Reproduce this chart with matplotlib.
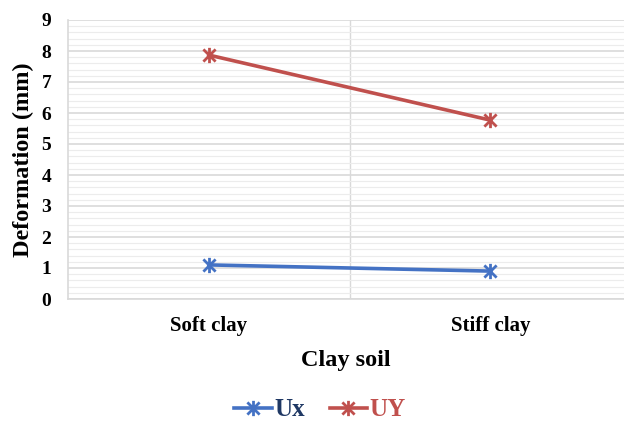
import numpy as np
import matplotlib.pyplot as plt
from matplotlib.path import Path
from matplotlib.ticker import MultipleLocator

# Data
categories = ["Soft clay", "Stiff clay"]
ux = [1.1, 0.9]
uy = [7.87, 5.77]

plt.rcParams['font.family'] = ['Liberation Serif', 'DejaVu Serif']
plt.rcParams['font.weight'] = 'bold'

# Excel-style star marker: an X with a vertical bar through it
star = Path([(-1, -1), (1, 1), (-1, 1), (1, -1), (0, -1.25), (0, 1.25)],
            [Path.MOVETO, Path.LINETO, Path.MOVETO, Path.LINETO,
             Path.MOVETO, Path.LINETO])

fig = plt.figure(figsize=(6.24, 4.21), dpi=100)
ax = fig.add_axes([68 / 624, 1 - 299 / 421, (624 - 68) / 624, (299 - 20) / 421])

x = np.arange(len(categories))
blue = "#4472C4"
red = "#C0504D"
ax.plot(x, ux, color=blue, lw=2.6, marker=star, ms=11, mew=2, label="Ux")
ax.plot(x, uy, color=red, lw=2.6, marker=star, ms=11, mew=2, label="UY")

ax.set_ylim(0, 9)
ax.set_xlim(-0.5, 1.475)
ax.yaxis.set_major_locator(MultipleLocator(1))
ax.yaxis.set_minor_locator(MultipleLocator(0.2))
ax.grid(which='major', axis='y', color='#d9d9d9', lw=1.2)
ax.grid(which='minor', axis='y', color='#ececec', lw=0.8)
ax.set_axisbelow(True)
ax.axvline(0.5, color='#d9d9d9', lw=1, zorder=0)

ax.set_xticks(x)
ax.set_xticklabels(categories, fontsize=15, fontweight='bold')
ax.tick_params(axis='both', which='both', length=0)
ax.tick_params(axis='y', labelsize=14, pad=12)
ax.tick_params(axis='x', pad=12)
for lab in ax.get_yticklabels():
    lab.set_fontweight('bold')

for side in ['top', 'right']:
    ax.spines[side].set_visible(False)
for side in ['left', 'bottom']:
    ax.spines[side].set_color('#d9d9d9')
    ax.spines[side].set_linewidth(1.2)

ax.set_ylabel("Deformation (mm)", fontsize=17.5, fontweight='bold', labelpad=5)
ax.set_xlabel("Clay soil", fontsize=17.5, fontweight='bold', labelpad=10)

leg = fig.legend(loc='center', bbox_to_anchor=(320 / 624, 1 - 410 / 421),
                 ncol=2, frameon=False, fontsize=18, handlelength=1.5,
                 columnspacing=1.0, handletextpad=0.1)
leg.get_texts()[0].set_color("#1F3864")
leg.get_texts()[1].set_color(red)

fig.savefig("out.png", dpi=100)
